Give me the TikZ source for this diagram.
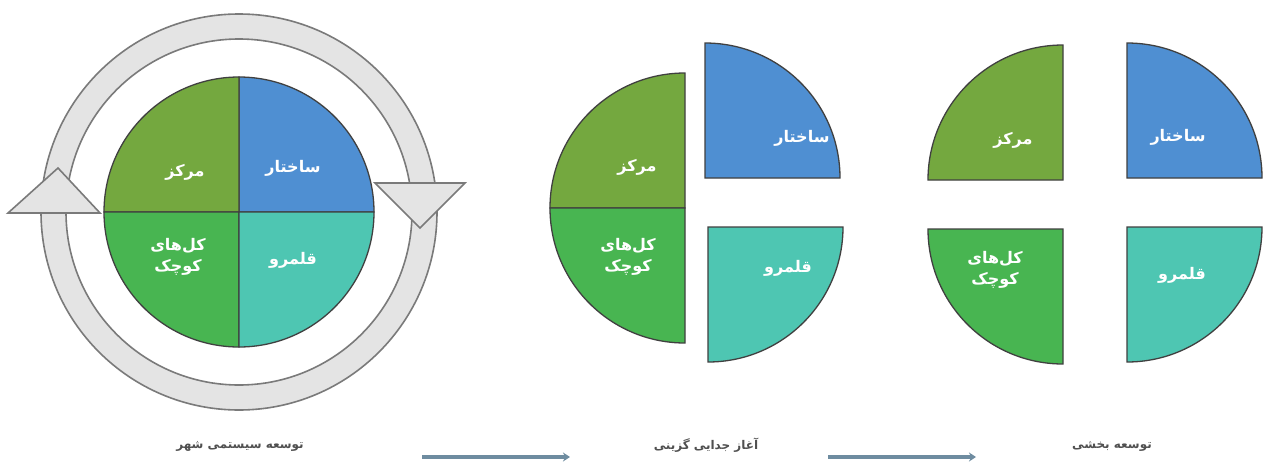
\documentclass[tikz,border=0pt]{standalone}
\usepackage{fontspec}
\usetikzlibrary{arrows.meta}
\TeXXeTstate=1
\newfontfamily\fa[Script=Arabic]{DejaVu Sans}
\definecolor{cblue}{HTML}{4F8FD2}
\definecolor{colive}{HTML}{74A83F}
\definecolor{cgreen}{HTML}{48B551}
\definecolor{cteal}{HTML}{4EC6B2}
\definecolor{ringfill}{HTML}{E4E4E4}
\definecolor{ringline}{HTML}{7A7A7A}
\definecolor{arrowc}{HTML}{6E8CA0}
\definecolor{labelc}{HTML}{505050}
\begin{document}
\begin{tikzpicture}[x=1pt,y=-1pt,
  sector/.style={draw=black!75, line width=1.3pt},
  qlabel/.style={text=white, font=\fa\bfseries\fontsize{16}{21}\selectfont, align=center, inner sep=0pt},
  ring/.style={fill=ringfill, draw=ringline, line width=1.6pt},
  stage/.style={text=labelc, font=\fa\bfseries\fontsize{12}{14}\selectfont, inner sep=0pt},
  flow/.style={draw=arrowc, line width=3.5pt, -{Stealth[length=7pt,width=9pt]}}
]
\useasboundingbox (0,0) rectangle (1264,461);
\fill[white] (0,0) rectangle (1264,461);

% ---------- left: systemic development ----------
\coordinate (c1) at (239,212);
\draw[ring, even odd rule] (c1) circle[radius=198] (c1) circle[radius=173];
\draw[ring, line join=miter] (8,213) -- (100,213) -- (58,168) -- cycle;
\draw[ring, line join=miter] (375,183) -- (465,183) -- (420,228) -- cycle;
\filldraw[sector, fill=cblue]  (c1) -- ++(0,-135) arc[start angle=-90, end angle=0, radius=135] -- cycle;
\filldraw[sector, fill=colive] (c1) -- ++(-135,0) arc[start angle=180, end angle=270, radius=135] -- cycle;
\filldraw[sector, fill=cgreen] (c1) -- ++(0,135) arc[start angle=90, end angle=180, radius=135] -- cycle;
\filldraw[sector, fill=cteal]  (c1) -- ++(135,0) arc[start angle=0, end angle=90, radius=135] -- cycle;
\node[qlabel] (l1a) at (293,168) {\beginR ساختار\endR};
\node[qlabel] (l1b) at (185,172) {\beginR مرکز\endR};
\node[qlabel] (l1c) at (178,257) {\beginR کل‌های\endR\\\beginR کوچک\endR};
\node[qlabel] (l1d) at (293,260) {\beginR قلمرو\endR};

% ---------- middle: beginning of segregation ----------
\coordinate (c2) at (685,208);
\coordinate (c2b) at (705,178);
\coordinate (c2t) at (708,227);
\filldraw[sector, fill=colive] (c2) -- ++(-135,0) arc[start angle=180, end angle=270, radius=135] -- cycle;
\filldraw[sector, fill=cgreen] (c2) -- ++(0,135) arc[start angle=90, end angle=180, radius=135] -- cycle;
\filldraw[sector, fill=cblue]  (c2b) -- ++(0,-135) arc[start angle=-90, end angle=0, radius=135] -- cycle;
\filldraw[sector, fill=cteal]  (c2t) -- ++(135,0) arc[start angle=0, end angle=90, radius=135] -- cycle;
\node[qlabel] (l2a) at (802,138) {\beginR ساختار\endR};
\node[qlabel] (l2b) at (637,167) {\beginR مرکز\endR};
\node[qlabel] (l2c) at (628,257) {\beginR کل‌های\endR\\\beginR کوچک\endR};
\node[qlabel] (l2d) at (788,268) {\beginR قلمرو\endR};

% ---------- right: sectoral development ----------
\coordinate (c3o) at (1063,180);
\coordinate (c3b) at (1127,178);
\coordinate (c3g) at (1063,229);
\coordinate (c3t) at (1127,227);
\filldraw[sector, fill=colive] (c3o) -- ++(-135,0) arc[start angle=180, end angle=270, radius=135] -- cycle;
\filldraw[sector, fill=cblue]  (c3b) -- ++(0,-135) arc[start angle=-90, end angle=0, radius=135] -- cycle;
\filldraw[sector, fill=cgreen] (c3g) -- ++(0,135) arc[start angle=90, end angle=180, radius=135] -- cycle;
\filldraw[sector, fill=cteal]  (c3t) -- ++(135,0) arc[start angle=0, end angle=90, radius=135] -- cycle;
\node[qlabel] (l3a) at (1178,137) {\beginR ساختار\endR};
\node[qlabel] (l3b) at (1013,140) {\beginR مرکز\endR};
\node[qlabel] (l3c) at (995,270) {\beginR کل‌های\endR\\\beginR کوچک\endR};
\node[qlabel] (l3d) at (1182,275) {\beginR قلمرو\endR};

% ---------- bottom stage labels and arrows ----------
\node[stage] (s1) at (240,446) {\beginR توسعه سیستمی شهر\endR};
\node[stage] (s2) at (706,445) {\beginR آغاز جدایی گزینی\endR};
\node[stage] (s3) at (1112,446) {\beginR توسعه بخشی\endR};
\coordinate (a1s) at (422,457);
\coordinate (a1e) at (570,457);
\coordinate (a2s) at (828,457);
\coordinate (a2e) at (976,457);
\draw[flow] (a1s) -- (a1e);
\draw[flow] (a2s) -- (a2e);
\end{tikzpicture}
\end{document}
